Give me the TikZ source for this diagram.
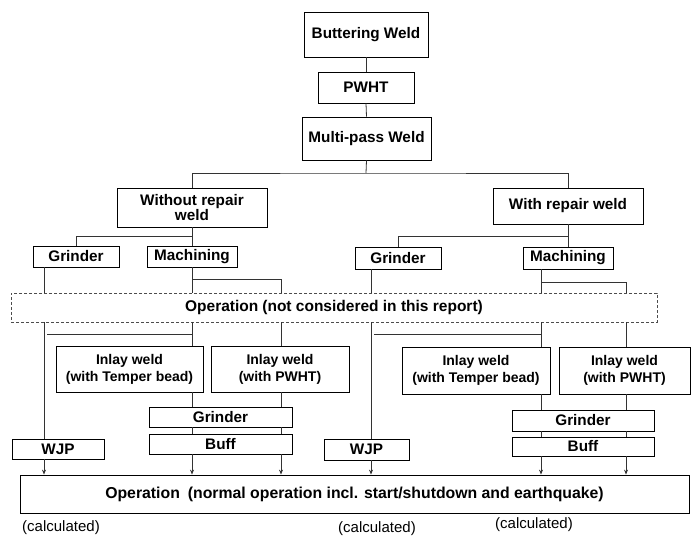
\documentclass[tikz,border=0pt]{standalone}
\usepackage{fontspec}
\setmainfont{Liberation Sans}
\usetikzlibrary{arrows.meta}
\begin{document}
\begin{tikzpicture}[x=1pt,y=-1pt,
  box/.style={draw=black, line width=0.8pt, inner sep=0pt, align=center,
    font=\fontsize{15.3}{16}\selectfont\bfseries},
  inlay/.style={box, font=\fontsize{14}{17}\selectfont\bfseries},
  dbox/.style={draw=black!70, dash pattern=on 3pt off 2pt, line width=0.7pt, inner sep=0pt,
    font=\fontsize{15.5}{16}\selectfont\bfseries},
  conn/.style={draw=black!80, line width=0.8pt},
  arr/.style={conn, -{Stealth[length=5pt,width=4pt]}},
  calc/.style={inner sep=0pt, font=\fontsize{15}{16}\selectfont}]
\useasboundingbox (0,0) rectangle (693,537);

% top chain
\node[box, minimum width=124pt, minimum height=45pt] (bw) at (366,34.5) {Buttering Weld};
\node[box, minimum width=96pt, minimum height=31pt] (pwht) at (366,87.5) {PWHT};
\node[box, minimum width=129pt, minimum height=43pt] (mpw) at (366.5,138.5) {Multi-pass Weld};
\node[box, minimum width=150pt, minimum height=39pt, font=\fontsize{15.3}{15}\selectfont\bfseries] (wo) at (192,207.5) {Without repair\\weld};
\node[box, minimum width=150pt, minimum height=36pt] (wr) at (568,206) {With repair weld};

\node[box, minimum width=86pt, minimum height=21pt] (gl) at (76,256.5) {Grinder};
\node[box, minimum width=90pt, minimum height=21pt] (ml) at (192,256.5) {Machining};
\node[box, minimum width=86pt, minimum height=22pt] (gr) at (398,258) {Grinder};
\node[box, minimum width=90pt, minimum height=22pt] (mr) at (568,258) {Machining};

\node[dbox, minimum width=646pt, minimum height=29pt] (op1) at (334,307.5) {Operation\hspace{4pt}(not considered in this report)};

\node[inlay, minimum width=147pt, minimum height=46pt] (itl) at (129.5,369) {Inlay weld\\(with Temper bead)};
\node[inlay, minimum width=138pt, minimum height=46pt] (ipl) at (280,369) {Inlay weld\\(with PWHT)};
\node[inlay, minimum width=148pt, minimum height=47pt] (itr) at (476,370.5) {Inlay weld\\(with Temper bead)};
\node[inlay, minimum width=131pt, minimum height=47pt] (ipr) at (624.5,370.5) {Inlay weld\\(with PWHT)};

\node[box, minimum width=143pt, minimum height=20pt] (gl2) at (220.5,417) {Grinder};
\node[box, minimum width=143pt, minimum height=20pt] (bl) at (220.5,444) {Buff};
\node[box, minimum width=142pt, minimum height=21pt] (gr2) at (583,420.5) {Grinder};
\node[box, minimum width=142pt, minimum height=19pt] (br) at (583,446.5) {Buff};
\node[box, minimum width=92pt, minimum height=20pt] (wjl) at (58,449) {WJP};
\node[box, minimum width=85pt, minimum height=21pt] (wjr) at (366.5,449.5) {WJP};

\node[box, minimum width=669pt, minimum height=38pt, font=\fontsize{15.8}{16}\selectfont\bfseries] (op) at (354.5,494) {Operation\hspace{8pt}(normal operation incl. start/shutdown and earthquake)};

\node[calc] (c1) at (61,528) {(calculated)};
\node[calc] (c2) at (377,529) {(calculated)};
\node[calc] (c3) at (534,525) {(calculated)};

% column coordinates
\coordinate (cA) at (44,0);
\coordinate (cB) at (192,0);
\coordinate (cC) at (281,0);
\coordinate (cD) at (371,0);
\coordinate (cE) at (541,0);
\coordinate (cF) at (626,0);
\coordinate (j1) at (366,173);
\coordinate (j2) at (192,236);
\coordinate (j3) at (568,236);
\coordinate (j4) at (192,279);
\coordinate (j5) at (541,282);
\coordinate (s1a) at (47,334);
\coordinate (s1b) at (192,334);
\coordinate (s2a) at (374,334);
\coordinate (s2b) at (541,334);

% connectors top
\draw[conn] (bw.south) -- (pwht.north);
\draw[conn] (pwht.south) -- (mpw.north);
\draw[conn] (mpw.south) -- (j1);
\draw[conn] (wo.north) |- (j1) -| (wr.north);
\draw[conn] (wo.south) -- (ml.north);
\draw[conn] (j2) -| (gl.north);
\draw[conn] (wr.south) -- (mr.north);
\draw[conn] (j3) -| (gr.north);

% into dashed box
\draw[conn] (cA |- gl.south) -- (cA |- op1.north);
\draw[conn] (ml.south) -- (cB |- op1.north);
\draw[conn] (j4) -| (cC |- op1.north);
\draw[conn] (cD |- gr.south) -- (cD |- op1.north);
\draw[conn] (cE |- mr.south) -- (cE |- op1.north);
\draw[conn] (j5) -| (cF |- op1.north);

% below dashed box
\draw[conn] (cA |- op1.south) -- (cA |- wjl.north);
\draw[conn] (s1a) -- (s1b);
\draw[conn] (cB |- op1.south) -- (cB |- itl.north);
\draw[conn] (cC |- op1.south) -- (cC |- ipl.north);
\draw[conn] (cD |- op1.south) -- (cD |- wjr.north);
\draw[conn] (s2a) -- (s2b);
\draw[conn] (cE |- op1.south) -- (cE |- itr.north);
\draw[conn] (cF |- op1.south) -- (cF |- ipr.north);

% inlay chains
\draw[conn] (cB |- itl.south) -- (cB |- gl2.north);
\draw[conn] (cB |- gl2.south) -- (cB |- bl.north);
\draw[conn] (cC |- ipl.south) -- (cC |- gl2.north);
\draw[conn] (cC |- gl2.south) -- (cC |- bl.north);
\draw[conn] (cE |- itr.south) -- (cE |- gr2.north);
\draw[conn] (cE |- gr2.south) -- (cE |- br.north);
\draw[conn] (cF |- ipr.south) -- (cF |- gr2.north);
\draw[conn] (cF |- gr2.south) -- (cF |- br.north);

% arrows into operation
\draw[arr] (cA |- wjl.south) -- (cA |- op.north);
\draw[arr] (cB |- bl.south) -- (cB |- op.north);
\draw[arr] (cC |- bl.south) -- (cC |- op.north);
\draw[arr] (cD |- wjr.south) -- (cD |- op.north);
\draw[arr] (cE |- br.south) -- (cE |- op.north);
\draw[arr] (cF |- br.south) -- (cF |- op.north);
\end{tikzpicture}
\end{document}
